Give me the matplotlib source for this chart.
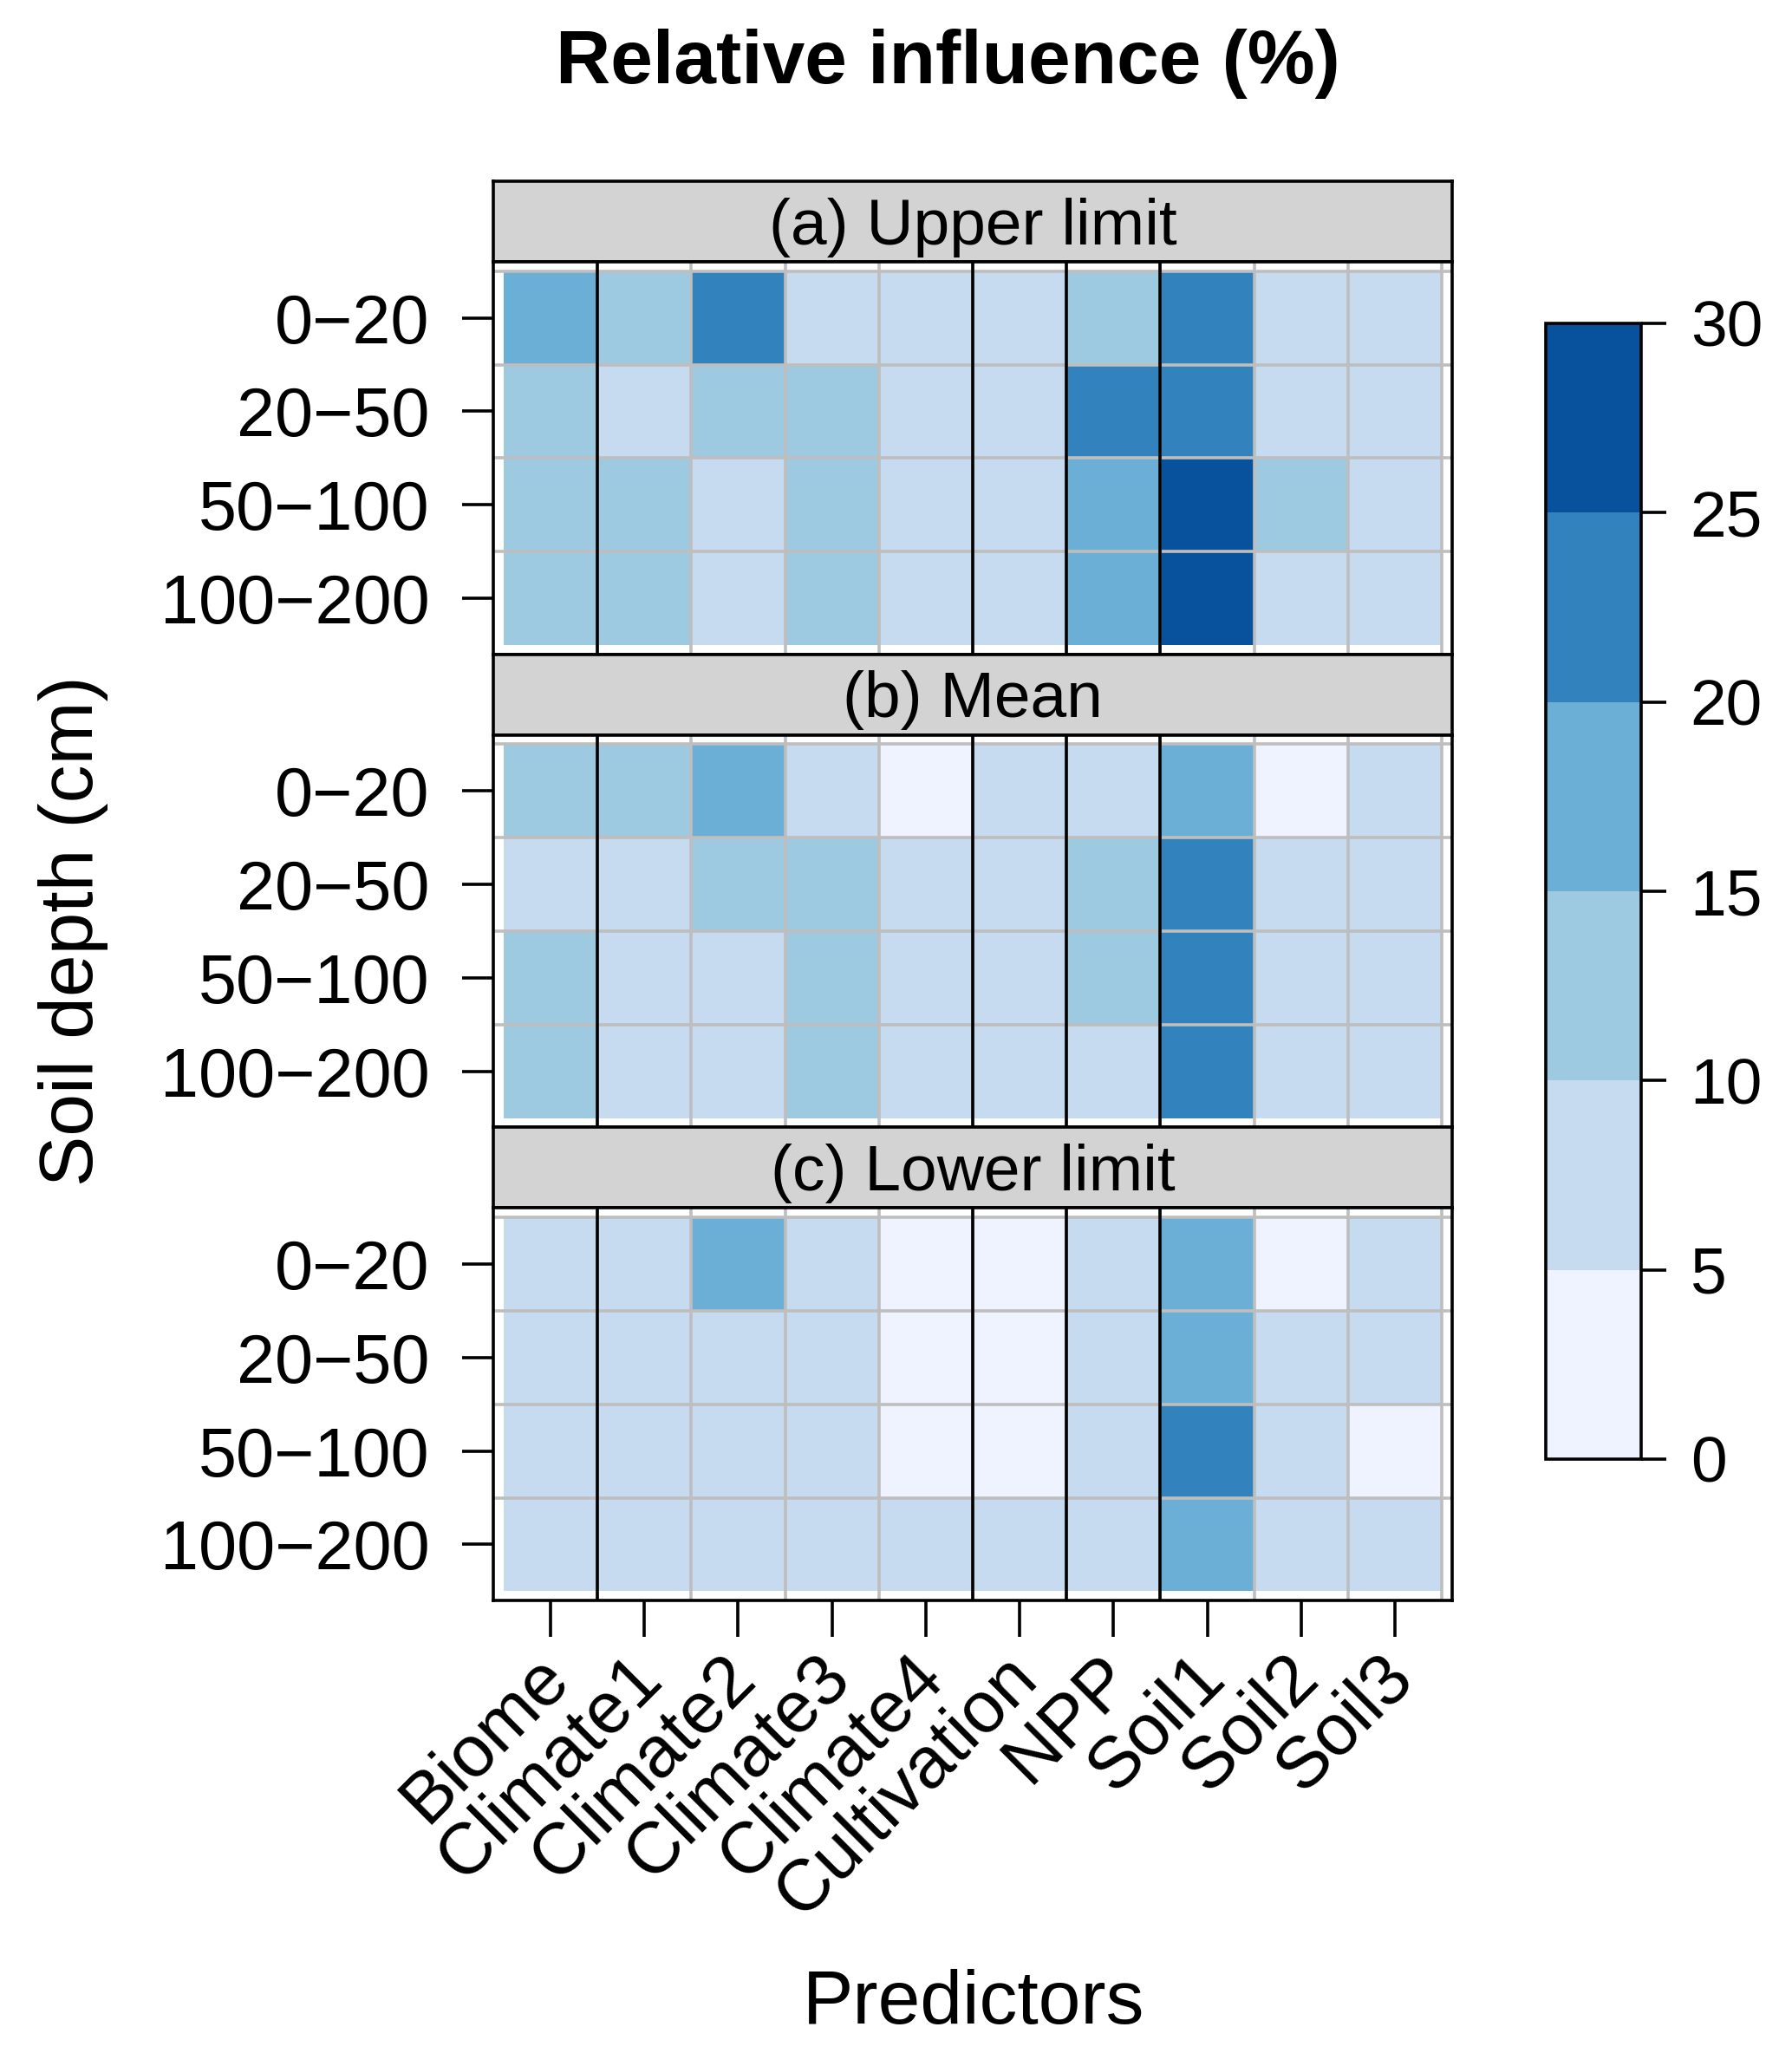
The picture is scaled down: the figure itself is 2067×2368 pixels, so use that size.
import numpy as np
import matplotlib
matplotlib.use("Agg")
import matplotlib.pyplot as plt
from matplotlib.colors import ListedColormap, BoundaryNorm
import matplotlib.transforms as mtransforms

plt.rcParams['font.family'] = ['Liberation Sans', 'DejaVu Sans']

# datos (influencia relativa, %)
predictores = ["Biome", "Climate1", "Climate2", "Climate3", "Climate4",
               "Cultivation", "NPP", "Soil1", "Soil2", "Soil3"]
profundidades = ["0\u221220", "20\u221250", "50\u2212100", "100\u2212200"]
paneles = ["(a) Upper limit", "(b) Mean", "(c) Lower limit"]

limite_superior = [
    [17.1, 12.4, 22.3, 8.2, 7.9, 7.6, 12.8, 23.5, 7.4, 7.7],
    [12.6, 7.3, 12.1, 12.3, 7.8, 7.5, 22.4, 22.8, 7.6, 7.9],
    [12.2, 12.0, 7.2, 12.4, 7.7, 7.4, 17.3, 27.2, 12.1, 7.5],
    [12.3, 12.2, 7.1, 12.5, 7.6, 7.3, 17.6, 28.1, 7.8, 7.4],
]
media = [
    [12.4, 12.2, 16.8, 8.1, 3.9, 7.8, 8.3, 17.2, 3.4, 7.9],
    [8.2, 7.9, 12.3, 12.1, 7.8, 7.6, 11.4, 22.2, 7.7, 7.8],
    [12.1, 7.8, 7.9, 12.4, 7.7, 7.5, 11.2, 22.5, 7.6, 7.7],
    [12.3, 7.7, 7.8, 12.2, 7.6, 7.4, 8.9, 22.1, 7.5, 7.6],
]
limite_inferior = [
    [7.9, 8.1, 16.9, 8.2, 3.6, 3.1, 8.4, 17.4, 3.3, 8.0],
    [8.1, 8.0, 7.9, 8.1, 3.8, 3.2, 8.2, 17.1, 7.8, 8.2],
    [8.0, 7.8, 7.8, 8.0, 3.7, 3.5, 8.1, 22.6, 7.9, 3.8],
    [8.2, 7.9, 7.7, 7.9, 7.2, 7.1, 8.0, 16.6, 7.7, 7.8],
]
niveles = [0, 5, 10, 15, 20, 25, 30]
colores = ['#EFF3FF', '#C6DBEF', '#9ECAE1', '#6BAED6', '#3182BD', '#08519C']

datos = [limite_superior, media, limite_inferior]
cmap = ListedColormap(colores)
norm = BoundaryNorm(niveles, cmap.N)

W, H = 2067, 2368
fig = plt.figure(figsize=(W / 200, H / 200), dpi=200)


def rect(x0, y0, x1, y1):
    # coordenadas en pixeles (origen arriba a la izquierda)
    return [x0 / W, 1 - y1 / H, (x1 - x0) / W, (y1 - y0) / H]


lw = 1.3
x0, x1 = 569, 1675
alto_bloque = 545.7
alto_strip = 93
n_col = len(predictores)
n_fil = len(profundidades)
xe = np.arange(n_col + 1) + 0.5
ye = np.arange(n_fil + 1) + 0.5

for i, (titulo, valores) in enumerate(zip(paneles, datos)):
    top = 209 + i * alto_bloque
    ax_s = fig.add_axes(rect(x0, top, x1, top + alto_strip))
    ax_s.set_facecolor('#D3D3D3')
    ax_s.set_xticks([])
    ax_s.set_yticks([])
    for sp in ax_s.spines.values():
        sp.set_linewidth(lw)
    ax_s.text(0.5, 0.43, titulo, ha='center', va='center', fontsize=27,
              transform=ax_s.transAxes)

    ax = fig.add_axes(rect(x0, top + alto_strip, x1, top + alto_bloque))
    ax.pcolormesh(xe, ye, np.array(valores), cmap=cmap, norm=norm)
    ax.set_xlim(0.39, n_col + 0.61)
    ax.set_ylim(n_fil + 0.6, 0.4)
    for xv in np.arange(1, n_col + 1) + 0.5:
        ax.axvline(xv, color='#BEBEBE', lw=1.3, zorder=3)
    for yv in np.arange(0, n_fil) + 0.5:
        ax.axhline(yv, color='#BEBEBE', lw=1.3, zorder=3)
    for xv in [1.5, 5.5, 6.5, 7.5]:
        ax.axvline(xv, color='black', lw=1.3, zorder=4)
    for sp in ax.spines.values():
        sp.set_linewidth(lw)
        sp.set_zorder(5)
    ax.set_yticks(np.arange(1, n_fil + 1))
    ax.set_yticklabels(profundidades, fontsize=28.5)
    ax.tick_params(axis='y', length=13, width=lw, pad=13.5)
    ax.set_xticks(np.arange(1, n_col + 1))
    if i == len(paneles) - 1:
        ax.set_xticklabels(predictores, fontsize=30, rotation=45,
                           ha='right', va='center', rotation_mode='anchor')
        ax.tick_params(axis='x', length=15, width=lw, pad=12.5)
        desplazar = mtransforms.ScaledTranslation(8 / 200, 0, fig.dpi_scale_trans)
        for lab in ax.get_xticklabels():
            lab.set_transform(lab.get_transform() + desplazar)
    else:
        ax.tick_params(axis='x', length=0, labelbottom=False)

# barra de colores
cax = fig.add_axes(rect(1783, 373, 1893, 1683))
sm = plt.cm.ScalarMappable(cmap=cmap, norm=norm)
cb = fig.colorbar(sm, cax=cax, ticks=niveles)
cb.outline.set_linewidth(lw)
cax.tick_params(axis='y', length=10.4, width=lw, pad=10, labelsize=27)

fig.text(1093 / W, 1 - 96.5 / H, "Relative influence (%)", ha='center',
         va='baseline', fontsize=31.5, fontweight='bold')
fig.text(1123 / W, 1 - 2334 / H, "Predictors", ha='center', va='baseline',
         fontsize=31.5)
fig.text(107 / W, 1 - 1074 / H, "Soil depth (cm)", ha='center', va='baseline',
         rotation=90, rotation_mode='anchor', fontsize=31.5)

fig.savefig("out.png", dpi=200)
